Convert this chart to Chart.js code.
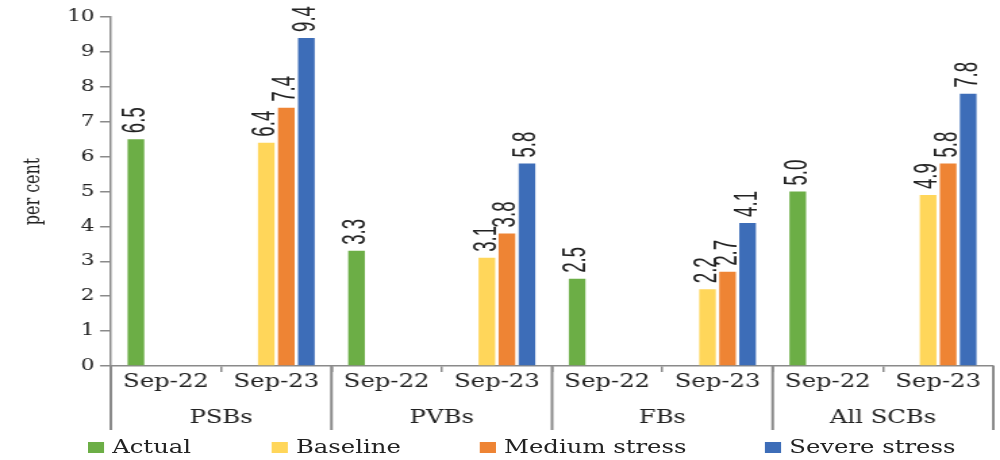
<!DOCTYPE html>
<html>
<head>
<meta charset="utf-8">
<script src="https://cdn.jsdelivr.net/npm/chart.js@4/dist/chart.umd.min.js"></script>
<style>
  html, body { margin: 0; padding: 0; background: #fff; overflow: hidden; }
  /* the figure is laid out narrow and widened horizontally */
  #wrap {
    position: relative;
    width: 740px;
    height: 460px;
    transform: scaleX(1.3514);
    transform-origin: 0 0;
  }
  #chart { display: block; }
  #legend {
    position: absolute;
    left: 65px;
    top: 437px;
    height: 20px;
    display: flex;
    align-items: center;
    font-family: "DejaVu Serif", serif;
    font-size: 18px;
    color: #222;
    white-space: nowrap;
  }
  #legend .item { display: flex; align-items: center; line-height: 20px; }
  #legend .item:nth-child(1) { width: 136px; }
  #legend .item:nth-child(2) { width: 154px; }
  #legend .item:nth-child(3) { width: 211px; }
  #legend .swatch { width: 12px; height: 11px; margin-right: 6px; flex: none; }
</style>
</head>
<body>
<div id="wrap">
  <canvas id="chart" width="740" height="460"></canvas>
  <div id="legend"></div>
</div>
<script>
// Gross NPA ratio projections by bank group (per cent)
const categories = ['Sep-22', 'Sep-23', 'Sep-22', 'Sep-23', 'Sep-22', 'Sep-23', 'Sep-22', 'Sep-23'];
const groups = ['PSBs', 'PVBs', 'FBs', 'All SCBs'];
const actual   = [6.5, null, 3.3, null, 2.5, null, 5.0, null];
const baseline = [null, 6.4, null, 3.1, null, 2.2, null, 4.9];
const medium   = [null, 7.4, null, 3.8, null, 2.7, null, 5.8];
const severe   = [null, 9.4, null, 5.8, null, 4.1, null, 7.8];
const seriesNames = ['Actual', 'Baseline', 'Medium stress', 'Severe stress'];
const seriesColors = ['#6cae46', '#ffd65a', '#ee8434', '#3d6db8'];
const yMin = 0, yMax = 10, yStep = 1;

const serif = '"DejaVu Serif", serif';
const textColor = '#222';
const axisColor = '#8a8a8a';

// value labels, written vertically above each bar
const valueLabels = {
  id: 'valueLabels',
  afterDatasetsDraw(chart) {
    const ctx = chart.ctx;
    ctx.save();
    ctx.fillStyle = textColor;
    ctx.font = '23px "Liberation Sans", sans-serif';
    ctx.textAlign = 'left';
    ctx.textBaseline = 'middle';
    chart.data.datasets.forEach((ds, di) => {
      const meta = chart.getDatasetMeta(di);
      meta.data.forEach((bar, i) => {
        const v = ds.data[i];
        if (v === null || v === undefined) return;
        ctx.save();
        ctx.translate(bar.x, bar.y - 6);
        ctx.rotate(-Math.PI / 2);
        ctx.scale(0.81, 1);
        ctx.fillText(v.toFixed(1), 0, 0);
        ctx.restore();
      });
    });
    ctx.restore();
  }
};

// long separators between bank groups, below the category axis
const groupSeparators = {
  id: 'groupSeparators',
  afterDraw(chart) {
    const x = chart.scales.x;
    const ctx = chart.ctx;
    const n = categories.length;
    const per = n / groups.length;
    const half = (x.getPixelForValue(1) - x.getPixelForValue(0)) / 2;
    ctx.save();
    ctx.strokeStyle = axisColor;
    ctx.lineWidth = 2;
    for (let g = 0; g <= groups.length; g++) {
      const idx = g * per;
      const px = idx < n ? x.getPixelForValue(idx) - half : x.getPixelForValue(n - 1) + half;
      ctx.beginPath();
      ctx.moveTo(px, x.top);
      ctx.lineTo(px, x.top + 64);
      ctx.stroke();
    }
    ctx.restore();
  }
};

// legend rendered as HTML from the chart's own legend items
const htmlLegend = {
  id: 'htmlLegend',
  afterUpdate(chart) {
    const box = document.getElementById('legend');
    box.innerHTML = '';
    const items = chart.options.plugins.legend.labels.generateLabels(chart);
    items.forEach(item => {
      const el = document.createElement('div');
      el.className = 'item';
      const sw = document.createElement('span');
      sw.className = 'swatch';
      sw.style.background = item.fillStyle;
      const tx = document.createElement('span');
      tx.textContent = item.text;
      el.appendChild(sw);
      el.appendChild(tx);
      box.appendChild(el);
    });
  }
};

const seriesData = [actual, baseline, medium, severe];

new Chart(document.getElementById('chart'), {
  type: 'bar',
  data: {
    labels: categories,
    datasets: seriesData.map((d, i) => ({
      label: seriesNames[i],
      data: d,
      backgroundColor: seriesColors[i],
      borderWidth: 0,
      categoryPercentage: 0.727,
      barPercentage: 0.83
    }))
  },
  options: {
    responsive: false,
    animation: false,
    layout: { padding: { top: 17, right: 5, bottom: 0, left: 0 } },
    plugins: {
      legend: { display: false },
      tooltip: { enabled: false }
    },
    scales: {
      x: {
        type: 'category',
        offset: true,
        grid: { offset: true, drawOnChartArea: false, tickLength: 6, color: axisColor, lineWidth: 1.5 },
        border: { color: axisColor, width: 1.5 },
        ticks: { font: { family: serif, size: 18 }, color: textColor, padding: 0, maxRotation: 0, autoSkip: false },
        afterFit(scale) { scale.height = 30; }
      },
      x2: {
        type: 'category',
        position: 'bottom',
        labels: groups,
        offset: true,
        grid: { display: false, drawTicks: false, offset: true },
        border: { display: false },
        ticks: { font: { family: serif, size: 18 }, color: textColor, padding: 12, maxRotation: 0, autoSkip: false },
        afterFit(scale) { scale.height = 64; }
      },
      y: {
        min: yMin,
        max: yMax,
        ticks: { stepSize: yStep, font: { family: serif, size: 16 }, color: textColor, padding: 4 },
        grid: { drawOnChartArea: false, tickLength: 8, color: axisColor, lineWidth: 1.5 },
        border: { color: axisColor, width: 1.5 },
        title: {
          display: true,
          text: 'per cent',
          font: { family: serif, size: 16 },
          color: textColor,
          padding: { top: 15, bottom: 0 }
        },
        afterFit(scale) { scale.width = 82; }
      }
    }
  },
  plugins: [valueLabels, groupSeparators, htmlLegend]
});
</script>
</body>
</html>
